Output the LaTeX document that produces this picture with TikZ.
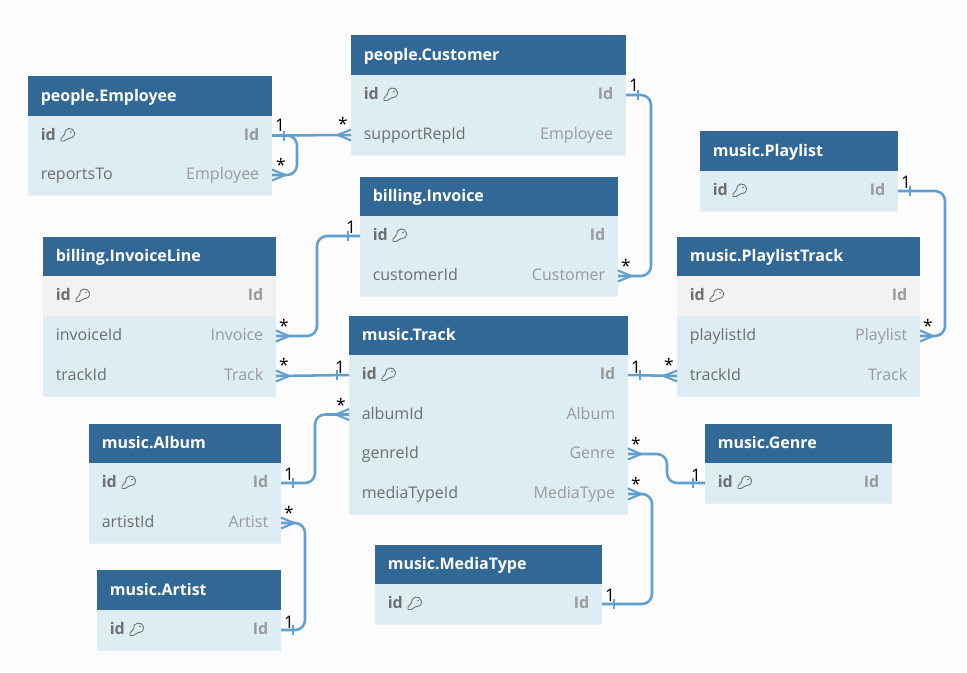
\documentclass[tikz,border=0pt]{standalone}
\usepackage{fontspec}
\setmainfont{Open Sans}
\usetikzlibrary{calc}
\definecolor{bgc}{HTML}{FCFCFC}
\definecolor{headc}{HTML}{316896}
\definecolor{bodyc}{HTML}{DEECF4}
\definecolor{grayc}{HTML}{F2F2F2}
\definecolor{sepc}{HTML}{E8F1F7}
\definecolor{linec}{HTML}{5F9FD2}
\definecolor{namec}{HTML}{6E6E6E}
\definecolor{typec}{HTML}{9A9A9A}
\tikzset{
 x=0.75pt,y=-0.75pt,
 boxbase/.style={inner sep=0,outer sep=0,draw=none},
 conn/.style={draw=linec,line width=1.9pt,rounded corners=7.5pt},
 foot/.style={draw=linec,line width=1.6pt},
 bar/.style={draw=linec,line width=1.3pt},
 titletxt/.style={inner sep=0,outer sep=0,anchor=base west,text=white,font=\fontsize{12}{14}\selectfont\bfseries},
 leftxt/.style={inner sep=0,outer sep=0,anchor=base west,text=namec,font=\fontsize{12}{14}\selectfont},
 rightxt/.style={inner sep=0,outer sep=0,anchor=base east,text=typec,font=\fontsize{12}{14}\selectfont},
 lab/.style={inner sep=0,outer sep=0,text=black,font=\fontsize{13}{14}\selectfont},
 keyline/.style={draw=namec,line width=0.65pt,line join=round},
}
% name x1 x2 y1 y2 title
\newcommand{\tblhead}[6]{%
 \node[boxbase,fill=headc,minimum width={(#3-#2)*0.75pt},minimum height={(#5-#4)*0.75pt}] (#1) at ({(#2+#3)/2},{(#4+#5)/2}) {};
 \node[titletxt] (#1-t) at ({#2+12.8},{(#4+#5)/2+5}) {#6};}
% name x1 x2 y1 y2 fill left right
\newcommand{\tblrow}[8]{%
 \node[boxbase,fill=#6,minimum width={(#3-#2)*0.75pt},minimum height={(#5-#4)*0.75pt}] (#1) at ({(#2+#3)/2},{(#4+#5)/2}) {};
 \draw[sepc,line width=0.5pt] (#2,#5) -- (#3,#5);
 \node[leftxt] (#1-l) at ({#2+12.8},{(#4+#5)/2+4.8}) {#7};
 \node[rightxt] (#1-r) at ({#3-12.8},{(#4+#5)/2+4.8}) {#8};}
% id row with key
\newcommand{\tblid}[6]{%
 \node[boxbase,fill=#6,minimum width={(#3-#2)*0.75pt},minimum height={(#5-#4)*0.75pt}] (#1) at ({(#2+#3)/2},{(#4+#5)/2}) {};
 \draw[sepc,line width=0.5pt] (#2,#5) -- (#3,#5);
 \node[leftxt,font=\fontsize{12}{14}\selectfont\bfseries] (#1-l) at ({#2+12.8},{(#4+#5)/2+4.8}) {id};
 \node[rightxt,font=\fontsize{12}{14}\selectfont\bfseries] (#1-r) at ({#3-12.8},{(#4+#5)/2+4.8}) {Id};
 \begin{scope}[shift={({#2+33},{(#4+#5)/2-0.5})}]
  \draw[keyline] (0,6) -- (0,3.5) -- (3.6,-0.72) arc[start angle=170,end angle=460,radius=5] -- (3,6) -- cycle;
  \fill[namec] (10,-3) circle[radius=0.8];
 \end{scope}}
\newcommand{\crowR}[1]{% apex to the right of the anchor
 \draw[foot] (#1) ++(13,0) -- ++(-13,-5.5);
 \draw[foot] (#1) ++(13,0) -- ++(-13,5.5);}
\newcommand{\crowL}[1]{%
 \draw[foot] (#1) ++(-13,0) -- ++(13,-5.5);
 \draw[foot] (#1) ++(-13,0) -- ++(13,5.5);}
\newcommand{\barR}[1]{\draw[bar] (#1) ++(12,-5) -- ++(0,10);}
\newcommand{\barL}[1]{\draw[bar] (#1) ++(-12,-5) -- ++(0,10);}
\begin{document}
\begin{tikzpicture}
\path[fill=bgc,use as bounding box] (0,0) rectangle (967,672);

% tables
\tblhead{emp}{28}{272}{76}{116}{people.Employee}
\tblid{empid}{28}{272}{116}{155}{bodyc}
\tblrow{emprep}{28}{272}{155}{195}{bodyc}{reportsTo}{Employee}

\tblhead{cust}{351}{626}{35}{75}{people.Customer}
\tblid{custid}{351}{626}{75}{115}{bodyc}
\tblrow{custsr}{351}{626}{115}{155}{bodyc}{supportRepId}{Employee}

\tblhead{inv}{360}{618}{177}{216}{billing.Invoice}
\tblid{invid}{360}{618}{216}{256}{bodyc}
\tblrow{invcust}{360}{618}{256}{296}{bodyc}{customerId}{Customer}

\tblhead{il}{43}{276}{237}{276}{billing.InvoiceLine}
\tblid{ilid}{43}{276}{276}{316}{grayc}
\tblrow{ilinv}{43}{276}{316}{356}{bodyc}{invoiceId}{Invoice}
\tblrow{iltr}{43}{276}{356}{396}{bodyc}{trackId}{Track}

\tblhead{pl}{700}{898}{131}{171}{music.Playlist}
\tblid{plid}{700}{898}{171}{211}{bodyc}

\tblhead{pt}{677}{920}{237}{276}{music.PlaylistTrack}
\tblid{ptid}{677}{920}{276}{316}{grayc}
\tblrow{ptpl}{677}{920}{316}{356}{bodyc}{playlistId}{Playlist}
\tblrow{pttr}{677}{920}{356}{396}{bodyc}{trackId}{Track}

\tblhead{tr}{349}{628}{316}{355}{music.Track}
\tblid{trid}{349}{628}{355}{395}{bodyc}
\tblrow{tral}{349}{628}{395}{434}{bodyc}{albumId}{Album}
\tblrow{trge}{349}{628}{434}{474}{bodyc}{genreId}{Genre}
\tblrow{trmt}{349}{628}{474}{514}{bodyc}{mediaTypeId}{MediaType}

\tblhead{alb}{89}{281}{424}{463}{music.Album}
\tblid{albid}{89}{281}{463}{503}{bodyc}
\tblrow{albar}{89}{281}{503}{543}{bodyc}{artistId}{Artist}

\tblhead{art}{97}{281}{570}{610}{music.Artist}
\tblid{artid}{97}{281}{610}{650}{bodyc}

\tblhead{gen}{705}{892}{424}{463}{music.Genre}
\tblid{genid}{705}{892}{463}{503}{bodyc}

\tblhead{mt}{375}{602}{545}{584}{music.MediaType}
\tblid{mtid}{375}{602}{584}{624}{bodyc}

% connectors
\draw[conn] (empid.east) -- (custsr.west);
\barR{empid.east}\crowL{custsr.west}
\draw[conn] (empid.east) -- ++(25,0) |- (emprep.east);
\crowR{emprep.east}

\draw[conn] (custid.east) -- ++(25,0) |- (invcust.east);
\barR{custid.east}\crowR{invcust.east}

\draw[conn] (invid.west) -- ++(-43,0) |- (ilinv.east);
\barL{invid.west}\crowR{ilinv.east}

\draw[conn] (trid.west) -- (iltr.east);
\barL{trid.west}\crowR{iltr.east}

\draw[conn] (trid.east) -- (pttr.west);
\barR{trid.east}\crowL{pttr.west}

\draw[conn] (plid.east) -- ++(47,0) |- (ptpl.east);
\barR{plid.east}\crowR{ptpl.east}

\draw[conn] (albid.east) -- ++(34,0) |- (tral.west);
\barR{albid.east}\crowL{tral.west}

\draw[conn] (artid.east) -- ++(24,0) |- (albar.east);
\barR{artid.east}\crowR{albar.east}

\draw[conn] (genid.west) -- ++(-38,0) |- (trge.east);
\barL{genid.west}\crowR{trge.east}

\draw[conn] (mtid.east) -- ++(50,0) |- (trmt.east);
\barR{mtid.east}\crowR{trmt.east}

% labels
\node[lab] (l01) at (280,125.5) {1};
\node[lab] (l02) at (281,165) {*};
\node[lab] (l03) at (343,124) {*};
\node[lab] (l04) at (634,85.5) {1};
\node[lab] (l05) at (626,266) {*};
\node[lab] (l06) at (351,227.5) {1};
\node[lab] (l07) at (284,326) {*};
\node[lab] (l08) at (284,365) {*};
\node[lab] (l09) at (340,367) {1};
\node[lab] (l10) at (636,367) {1};
\node[lab] (l11) at (669,365) {*};
\node[lab] (l12) at (906,182) {1};
\node[lab] (l13) at (928,326) {*};
\node[lab] (l14) at (341,405) {*};
\node[lab] (l15) at (289,474.5) {1};
\node[lab] (l16) at (289,513) {*};
\node[lab] (l17) at (289,622) {1};
\node[lab] (l18) at (636,444) {*};
\node[lab] (l19) at (696,475) {1};
\node[lab] (l20) at (636,484) {*};
\node[lab] (l21) at (610,595.5) {1};
\end{tikzpicture}
\end{document}
